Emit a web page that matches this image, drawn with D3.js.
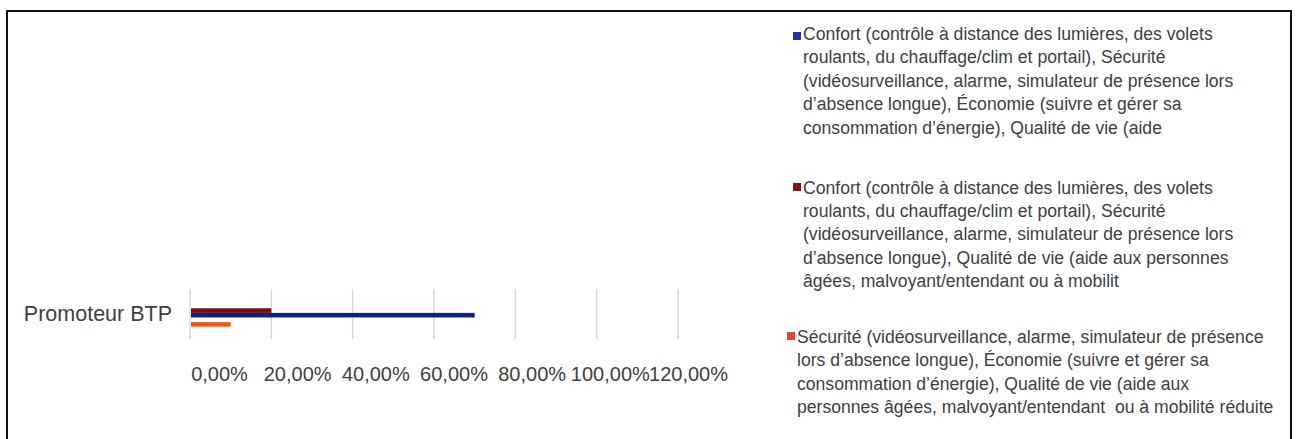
<!DOCTYPE html>
<html lang="fr">
<head>
<meta charset="utf-8">
<script src="https://cdn.jsdelivr.net/npm/d3@7"></script>
<style>
  html, body { margin: 0; padding: 0; background: #fff; }
  svg { display: block; font-family: "Liberation Sans", Arial, sans-serif; }
</style>
</head>
<body>
<svg id="chart" width="1297" height="439"></svg>
<script>
// Categories (one row of bars)
const categories = ["Promoteur BTP"];

// Series keys, in legend order
const seriesKeys = ["confortSecuEco", "confortSecuQualite", "secuEcoQualite"];

// Share of answers per series for the category
const seriesValues = [0.70, 0.20, 0.10];

// Legend labels, one entry per series, already split into lines
const seriesLabels = [
  ["Confort (contrôle à distance des lumières, des volets",
   "roulants, du chauffage/clim et portail), Sécurité",
   "(vidéosurveillance, alarme, simulateur de présence lors",
   "d’absence longue), Économie (suivre et gérer sa",
   "consommation d’énergie), Qualité de vie (aide"],
  ["Confort (contrôle à distance des lumières, des volets",
   "roulants, du chauffage/clim et portail), Sécurité",
   "(vidéosurveillance, alarme, simulateur de présence lors",
   "d’absence longue), Qualité de vie (aide aux personnes",
   "âgées, malvoyant/entendant ou à mobilit"],
  ["Sécurité (vidéosurveillance, alarme, simulateur de présence",
   "lors d’absence longue), Économie (suivre et gérer sa",
   "consommation d’énergie), Qualité de vie (aide aux",
   "personnes âgées, malvoyant/entendant  ou à mobilité réduite"]
];

// Axis ticks
const tickValues = [0, 0.2, 0.4, 0.6, 0.8, 1.0, 1.2];

const barColors = ["#0b2389", "#7e0b0b", "#f05a17"];
const legendColors = ["#1f3aa6", "#8a1414", "#e3473a"];
const textColor = "#404040";

const svg = d3.select("#chart");

// Frame
svg.append("rect")
  .attr("x", 7).attr("y", 11)
  .attr("width", 1284).attr("height", 440)
  .attr("fill", "#fff")
  .attr("stroke", "#111").attr("stroke-width", 2);

// Scales
const x = d3.scaleLinear().domain([0, 1.2]).range([190, 678]);
const xLabel = d3.scaleLinear().domain([0, 1.2]).range([219, 688]);
const y = d3.scaleBand().domain(categories).range([289, 339]);

// Slot order inside a category: dark red on top, blue, a gap, then orange
const slotOrder = [seriesKeys[1], seriesKeys[0], "gap", seriesKeys[2]];
const ySeries = d3.scaleBand().domain(slotOrder)
  .range([0, y.bandwidth()])
  .paddingInner(0).paddingOuter(3.43).align(0.61);

// Gridlines
svg.append("g").selectAll("line")
  .data(tickValues)
  .join("line")
  .attr("x1", d => x(d)).attr("x2", d => x(d))
  .attr("y1", y.range()[0]).attr("y2", y.range()[1])
  .attr("stroke", "#d9d9d9").attr("stroke-width", 1.5);

// Tick labels
const fmt = v => d3.format(".2f")(v * 100).replace(".", ",") + "%";
const axis = d3.axisBottom(xLabel).tickValues(tickValues).tickFormat(fmt).tickSize(0).tickPadding(0);
const axisG = svg.append("g").attr("transform", "translate(0,367)").call(axis);
axisG.select(".domain").remove();
axisG.selectAll("text")
  .attr("font-size", 20)
  .attr("font-family", "'Liberation Sans', Arial, sans-serif")
  .attr("fill", textColor);

// Category label
svg.append("g").selectAll("text")
  .data(categories)
  .join("text")
  .attr("x", 172)
  .attr("y", d => y(d) + y.bandwidth() / 2 + 7)
  .attr("text-anchor", "end")
  .attr("font-size", 21.5)
  .attr("fill", textColor)
  .text(d => d);

// Bars
const bars = seriesKeys.map((k, i) => ({ key: k, value: seriesValues[i], color: barColors[i] }));
svg.append("g").selectAll("rect")
  .data(bars)
  .join("rect")
  .attr("x", x(0) + 1)
  .attr("y", d => y(categories[0]) + ySeries(d.key))
  .attr("width", d => x(d.value) - x(0) - 1)
  .attr("height", ySeries.bandwidth())
  .attr("fill", d => d.color);

// Legend
const legendLayout = [
  { mx: 793, my: 32, top: 40 },
  { mx: 793, my: 183, top: 193.5 },
  { mx: 787, my: 332, top: 343 }
];
const lineStep = 23.4;
const legend = svg.append("g").selectAll("g")
  .data(seriesLabels.map((lines, i) => ({ lines, color: legendColors[i], pos: legendLayout[i] })))
  .join("g");
legend.append("rect")
  .attr("x", d => d.pos.mx).attr("y", d => d.pos.my)
  .attr("width", 8).attr("height", 8)
  .attr("fill", d => d.color);
legend.append("text")
  .attr("font-size", 17.6)
  .attr("fill", textColor)
  .each(function (d) {
    d3.select(this).selectAll("tspan")
      .data(d.lines)
      .join("tspan")
      .attr("x", d.pos.mx + 10)
      .attr("y", (l, j) => d.pos.top + j * lineStep)
      .attr("xml:space", "preserve")
      .text(l => l);
  });
</script>
</body>
</html>
